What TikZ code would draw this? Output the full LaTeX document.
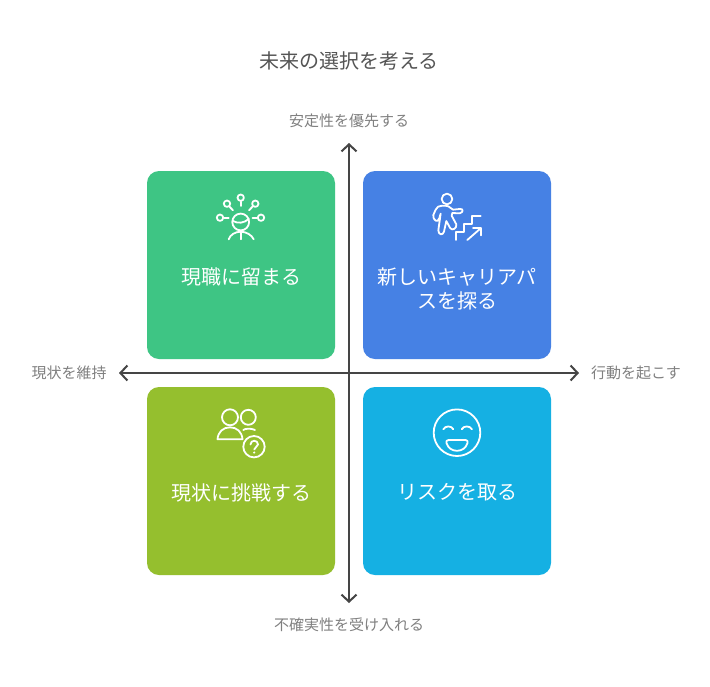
\documentclass[tikz,border=0pt]{standalone}
\usepackage{fontspec}
\setmainfont{Noto Sans CJK JP}
\usetikzlibrary{arrows.meta}
\definecolor{cgreen}{HTML}{3EC584}
\definecolor{cblue}{HTML}{4681E4}
\definecolor{clime}{HTML}{95BF2E}
\definecolor{ccyan}{HTML}{15B0E3}
\definecolor{caxis}{HTML}{454545}
\definecolor{ctitle}{HTML}{555555}
\definecolor{clabel}{HTML}{808080}
\tikzset{
  quad/.style={draw=none,fill=#1,rounded corners=12pt,minimum size=188pt,inner sep=0pt},
  axisline/.style={draw=caxis,line width=2pt,{Straight Barb[length=7pt,width=15pt,line width=2pt]}-{Straight Barb[length=7pt,width=15pt,line width=2pt]}},
  titletext/.style={text=ctitle,font=\fontsize{20}{24}\selectfont,inner sep=0pt},
  axistext/.style={text=clabel,font=\fontsize{15}{18}\selectfont,inner sep=0pt},
  quadtext/.style={text=white,font=\fontsize{20}{24}\selectfont,inner sep=0pt},
  icon/.style={draw=white,line width=1.8pt,line cap=round,line join=round},
}
\begin{document}
\begin{tikzpicture}[x=1pt,y=-1pt]
\useasboundingbox (0,0) rectangle (710,686);
\fill[white] (0,0) rectangle (710,686);
\node[quad=cgreen] (q1) at (241,265) {};
\node[quad=cblue] (q2) at (457,265) {};
\node[quad=clime] (q3) at (241,481) {};
\node[quad=ccyan] (q4) at (457,481) {};
\coordinate (top) at (349,143);
\coordinate (bottom) at (349,603);
\coordinate (left) at (119,373);
\coordinate (right) at (579,373);
\draw[axisline] (top) -- (bottom);
\draw[axisline] (left) -- (right);
\node[titletext] (title) at (349,60.5) {未来の選択を考える};
\node[axistext] (ltop) at (349,120.5) {安定性を優先する};
\node[axistext] (lbottom) at (349,624.5) {不確実性を受け入れる};
\node[axistext] (lleft) at (69,372.5) {現状を維持};
\node[axistext] (lright) at (636,372.5) {行動を起こす};
\node[quadtext] (t1) at (241,277) {現職に留まる};
\node[quadtext,align=center] (t2) at (457,289) {新しいキャリアパ\\スを探る};
\node[quadtext] (t3) at (241,492.5) {現状に挑戦する};
\node[quadtext] (t4) at (457,492.5) {リスクを取る};
% green icon
\begin{scope}[icon]
\draw (240.7,222) circle (8.4);
\draw (233,221) .. controls (238,224) and (244,223) .. (248.8,219);
\draw (228.7,239.3) .. controls (230,235) and (235,231.7) .. (240.7,231.7) .. controls (246,231.7) and (252,235) .. (253.7,239.3);
\draw (240.7,231.7) -- (240.7,239.3);
\draw (240.7,197.7) circle (3.2);
\draw (227,203.7) circle (3.2);
\draw (255.3,203.7) circle (3.2);
\draw (220,217.7) circle (3.2);
\draw (261,217.7) circle (3.2);
\draw (240.7,201.5) -- (240.7,206);
\draw (229.5,206.7) -- (233,210.3);
\draw (252.5,206.7) -- (249,210.3);
\draw (224,217.7) -- (228.7,217.7);
\draw (252.5,217.7) -- (257,217.7);
\end{scope}
% blue icon
\begin{scope}[icon,shift={(363,171)},x=0.3333pt,y=-0.3333pt]
\draw (252,84) circle (16);
\draw (238,104) .. controls (228,104) and (221,108) .. (218,116) -- (211,132) .. controls (210,144) and (218,152) .. (224,149) .. controls (230,146) and (229,138) .. (233,128)
 -- (226,178) .. controls (226,192) and (240,194) .. (243,182) -- (250,150) -- (262,172) .. controls (268,180) and (282,172) .. (280,160) -- (266,134) -- (268,126) -- (290,127) .. controls (302,124) and (302,112) .. (290,114) -- (270,116) -- (256,106) .. controls (250,104) and (245,104) .. (238,104);
\draw (278,207) -- (278,183) -- (303,183) -- (303,158) -- (328,158) -- (328,134) -- (353,134);
\draw (313,207) -- (353,172);
\draw (330,172) -- (353,172) -- (353,193);
\end{scope}
% lime icon
\begin{scope}[icon]
\draw (230,417.3) circle (8);
\draw (248.3,417.3) circle (7.5);
\draw (217.5,439.3) .. controls (218,432) and (223,427.3) .. (230,427.3) .. controls (237,427.3) and (242,432) .. (242.5,439.3) -- cycle;
\draw (243.3,430) .. controls (245,428.5) and (251,428) .. (255,430);
\draw (254,446.7) circle (10.7);
\draw (250.5,444.5) .. controls (250.5,439.5) and (258,439.5) .. (258,444.5) .. controls (258,447) and (254.2,447) .. (254.2,449.5);
\fill[white,draw=none] (254.2,452.5) circle (1.2);
\end{scope}
% cyan icon
\begin{scope}[icon]
\draw (457,432.7) circle (23.3);
\draw (443.3,429.3) .. controls (445,425.5) and (451.5,425.5) .. (453.3,429.3);
\draw (461.7,429.3) .. controls (463.5,425.5) and (470,425.5) .. (472,429.3);
\draw (448.5,440) -- (465.5,440) .. controls (467.5,440) and (468,441.5) .. (467.5,443) .. controls (466,448) and (462,450.8) .. (457,450.8) .. controls (452,450.8) and (448,448) .. (446.5,443) .. controls (446,441.5) and (446.5,440) .. (448.5,440) -- cycle;
\end{scope}
\end{tikzpicture}
\end{document}
